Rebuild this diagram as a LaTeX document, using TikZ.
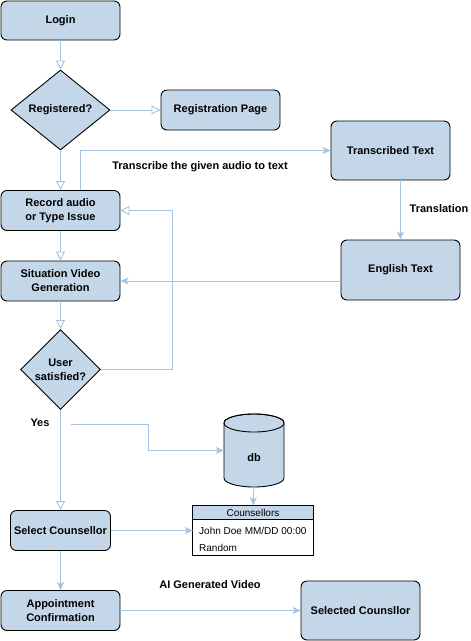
\documentclass[tikz,border=0pt]{standalone}
\usepackage{fontspec}
\setmainfont{Liberation Sans}
\usetikzlibrary{arrows.meta,shapes.geometric,calc}
\definecolor{bfill}{HTML}{C3D7E8}
\definecolor{lblue}{HTML}{A3C4E3}
\begin{document}
\begin{tikzpicture}[x=1pt,y=-1pt,
  font=\fontsize{11}{14}\selectfont\bfseries,
  box/.style={draw=black, fill=bfill, rounded corners=6pt, line width=0.9pt, align=center, inner sep=0pt},
  dia/.style={draw=black, fill=bfill, diamond, line width=0.9pt, inner sep=0pt, aspect=1},
  txt/.style={inner sep=0pt, align=center},
  oarr/.style={draw=lblue, line width=0.9pt, -{Triangle[open, length=9pt, width=9pt, fill=white]}},
  farr/.style={draw=lblue, line width=0.9pt, -{Stealth[length=8pt, width=7pt, inset=2pt]}},
  small/.style={font=\fontsize{10}{12}\selectfont}
]
\useasboundingbox (0,0) rectangle (471,641);

% nodes
\node[box, minimum width=119, minimum height=39] (login) at (60.5,20.5) {Login};
\node[dia, minimum width=99, minimum height=80] (reg) at (60.5,110) {};
\node[txt] (regt) at (reg) {Registered?};
\node[box, minimum width=119, minimum height=40] (regp) at (220.5,110) {Registration Page};
\node[box, minimum width=119, minimum height=59] (trans) at (390.5,150.5) {Transcribed Text};
\node[box, minimum width=119, minimum height=40] (rec) at (60.5,210.5) {Record audio\\or Type Issue};
\node[box, minimum width=119, minimum height=60] (eng) at (400.5,270) {English Text};
\node[box, minimum width=119, minimum height=40] (sit) at (60.5,281) {Situation Video\\Generation};
\node[dia, minimum width=80, minimum height=80] (usr) at (60.5,369.5) {};
\node[txt] (usrt) at (usr) {User\\satisfied?};

% database cylinder
\path[fill=bfill, draw=black, line width=0.9pt] (224,423) -- (224,478)
  arc[start angle=180, end angle=360, x radius=30pt, y radius=9pt] -- (284,423)
  arc[start angle=0, end angle=180, x radius=30pt, y radius=9pt] -- cycle;
\draw[line width=0.9pt] (254,423) ellipse[x radius=30pt, y radius=9pt];
\node[txt, minimum width=60, minimum height=73] (db) at (254,450.5) {};
\node[txt] (dbt) at (254,458) {db};

% table
\node[inner sep=0pt, minimum width=120, minimum height=50] (tbl) at (253,530.5) {};
\fill[bfill] (tbl.north west) rectangle ([yshift=-14pt]tbl.north east);
\draw[line width=0.9pt] (tbl.north west) rectangle (tbl.south east);
\draw[line width=0.9pt] ([yshift=-14pt]tbl.north west) -- ([yshift=-14pt]tbl.north east);
\node[txt, small] (tblh) at (253,512.5) {Counsellors};
\node[txt, small, anchor=west] (tblr1) at (199,531) {John Doe MM/DD 00:00};
\node[txt, small, anchor=west] (tblr2) at (199,548) {Random};

\node[box, minimum width=100, minimum height=40] (sel) at (60.5,530.5) {Select Counsellor};
\node[box, minimum width=119, minimum height=40] (app) at (60.5,610.5) {Appointment\\Confirmation};
\node[box, minimum width=119, minimum height=59] (selc) at (360.5,610.5) {Selected Counsllor};

% labels
\node[txt] (lt1) at (200,167) {Transcribe the given audio to text};
\node[txt] (lt2) at (439,209) {Translation};
\node[txt] (lyes) at (40,423) {Yes};
\node[txt] (lai) at (210,585) {AI Generated Video};

% connectors
\draw[oarr] (login.south) -- (reg.north);
\draw[oarr] (reg.east) -- (regp.west);
\draw[oarr] (reg.south) -- (rec.north);
\draw[farr] ([xshift=20pt]rec.north) |- (trans.west);
\draw[farr] (trans.south -| eng.north) -- (eng.north);
\draw[farr] (eng.west |- sit.east) -- (sit.east);
\draw[oarr] (usr.east) -- ++(71,0) |- (rec.east);
\draw[oarr] (rec.south) -- (sit.north);
\draw[oarr] (sit.south) -- (usr.north);
\draw[oarr] (usr.south) -- (sel.north);
\coordinate (ys) at (71,424);
\draw[farr] (ys) -- ++(77,0) |- (db.west);
\draw[farr] (db.south) -- (tbl.north);
\draw[farr] (sel.east) -- (tbl.west);
\draw[farr] (sel.south) -- (app.north);
\draw[farr] (app.east) -- (selc.west);
\end{tikzpicture}
\end{document}
